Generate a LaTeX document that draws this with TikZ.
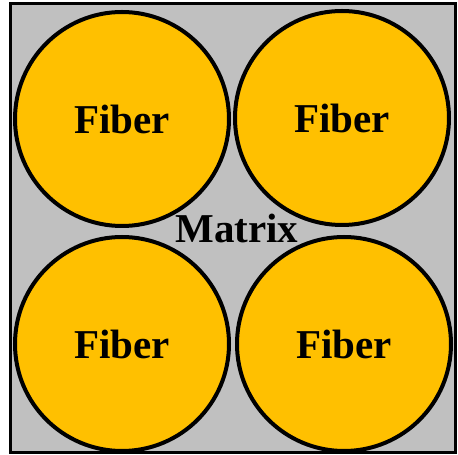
\documentclass[tikz,border=0pt]{standalone}
\usepackage{fontspec}
\setmainfont{Liberation Serif}
\usepackage{xcolor}
\usepackage{tikz}
\definecolor{matrixgray}{RGB}{192, 192, 192}
\definecolor{fibergold}{RGB}{255, 192, 0}

\begin{document}
\begin{tikzpicture}[x=1pt, y=1pt,
    matrixbox/.style={draw=black, fill=matrixgray, line width=3pt},
    fiber/.style={circle, draw=black, fill=fibergold, line width=4pt,
                  minimum size=214pt, inner sep=0pt,
                  font=\fontsize{41}{44}\selectfont\bfseries},
    label/.style={font=\fontsize{41}{44}\selectfont\bfseries}
]
\useasboundingbox (0,0) rectangle (458,455);

\node[matrixbox, minimum width=445pt, minimum height=449pt, inner sep=0pt] (matrix) at (232.5,226.5) {};
\node[fiber] (fiberTL) at (122,336) {Fiber};
\node[fiber] (fiberTR) at (342,337) {Fiber};
\node[fiber] (fiberBL) at (122,111) {Fiber};
\node[fiber] (fiberBR) at (344,111) {Fiber};
\node[label] (matrixlabel) at (237,227) {Matrix};

\end{tikzpicture}
\end{document}
